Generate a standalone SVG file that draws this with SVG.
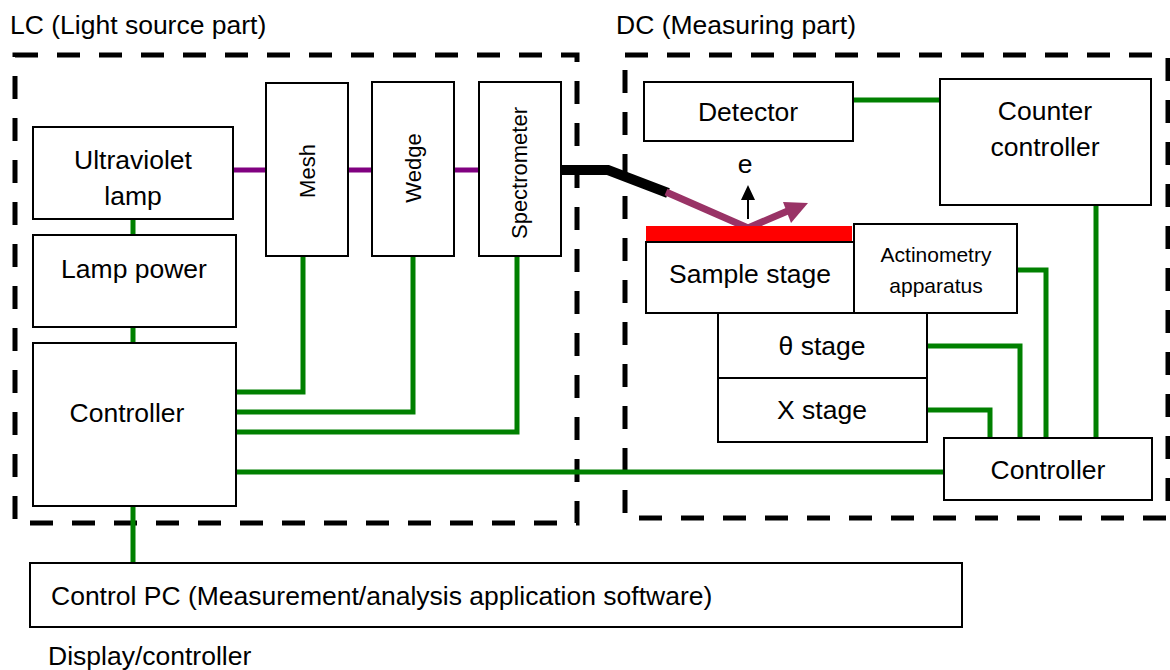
<svg xmlns="http://www.w3.org/2000/svg" width="1170" height="670" viewBox="0 0 1170 670">
<style>
  .box { fill: #fff; stroke: #000; stroke-width: 2; }
  .t { font-family: "Liberation Sans", Arial, sans-serif; font-size: 26.5px; fill: #000; }
  .tm { text-anchor: middle; }
  .ts { font-size: 21px; }
  .tr { font-size: 22px; }
  .dash { fill: none; stroke: #000; stroke-width: 5; stroke-dasharray: 23 19; }
  .g { fill: none; stroke: #008000; stroke-width: 5; }
  .p { fill: none; stroke: #800080; stroke-width: 5; }
</style>
<rect width="1170" height="670" fill="#fff"/>

<!-- regions -->
<g id="lc-region">
  <rect class="dash" x="15" y="55" width="562" height="468"/>
  <text class="t" x="10" y="34">LC (Light source part)</text>
</g>
<g id="dc-region">
  <rect class="dash" x="625" y="55" width="543" height="463"/>
  <text class="t" x="616" y="34">DC (Measuring part)</text>
</g>

<!-- connectors -->
<g id="connectors">
  <path class="p" d="M233,170 H266 M348,170 H372 M454,170 H479"/>
  <path class="g" d="M133,219 V235 M133,327 V343 M133,506 V563"/>
  <path class="g" d="M237,392 H303 V256"/>
  <path class="g" d="M237,412 H413 V256"/>
  <path class="g" d="M237,432 H517 V256"/>
  <path class="g" d="M237,472 H944"/>
  <path class="g" d="M853,100 H940"/>
  <path class="g" d="M1096,205 V438"/>
  <path class="g" d="M1017,270 H1046 V438"/>
  <path class="g" d="M927,346 H1020 V438"/>
  <path class="g" d="M927,410 H990 V438"/>
  <!-- light beam -->
  <path d="M561,170 H608 L668,193" fill="none" stroke="#000" stroke-width="10"/>
  <path d="M666,192 L748,228 L790,210" fill="none" stroke="#993366" stroke-width="7" stroke-linejoin="miter"/>
  <polygon points="808,203 783,202 791,223" fill="#993366"/>
  <!-- electron arrow -->
  <line x1="748" y1="219" x2="748" y2="198" stroke="#000" stroke-width="2"/>
  <polygon points="748,185 741,200 755,200" fill="#000"/>
  <text class="t tm" x="745" y="173">e</text>
</g>

<!-- LC nodes -->
<g id="uv-lamp">
  <rect class="box" x="33" y="127" width="200" height="92"/>
  <text class="t tm" x="133" y="169">Ultraviolet</text>
  <text class="t tm" x="133" y="205">lamp</text>
</g>
<g id="lamp-power">
  <rect class="box" x="33" y="235" width="203" height="92"/>
  <text class="t tm" x="134" y="278">Lamp power</text>
</g>
<g id="lc-controller">
  <rect class="box" x="33" y="343" width="203" height="163"/>
  <text class="t tm" x="127" y="422">Controller</text>
</g>
<g id="mesh">
  <rect class="box" x="266" y="83" width="82" height="173"/>
  <text class="t tr tm" transform="translate(315,171) rotate(-90)">Mesh</text>
</g>
<g id="wedge">
  <rect class="box" x="372" y="82" width="82" height="174"/>
  <text class="t tr tm" transform="translate(421,168) rotate(-90)">Wedge</text>
</g>
<g id="spectrometer">
  <rect class="box" x="479" y="82" width="82" height="174"/>
  <text class="t tr tm" transform="translate(527,173) rotate(-90)">Spectrometer</text>
</g>

<!-- DC nodes -->
<g id="detector">
  <rect class="box" x="644" y="82" width="209" height="59"/>
  <text class="t tm" x="748" y="121">Detector</text>
</g>
<g id="counter-controller">
  <rect class="box" x="940" y="79" width="211" height="126"/>
  <text class="t tm" x="1045" y="120">Counter</text>
  <text class="t tm" x="1045" y="156">controller</text>
</g>
<g id="sample-stage">
  <rect x="646" y="226" width="206" height="16" fill="#ff0000"/>
  <rect class="box" x="646" y="242" width="208" height="71"/>
  <text class="t tm" x="750" y="283">Sample stage</text>
</g>
<g id="actinometry">
  <rect class="box" x="854" y="224" width="163" height="89"/>
  <text class="t ts tm" x="936" y="262">Actinometry</text>
  <text class="t ts tm" x="936" y="293">apparatus</text>
</g>
<g id="theta-stage">
  <rect class="box" x="718" y="313" width="209" height="65"/>
  <text class="t tm" x="822" y="355">θ stage</text>
</g>
<g id="x-stage">
  <rect class="box" x="718" y="378" width="209" height="64"/>
  <text class="t tm" x="822" y="419">X stage</text>
</g>
<g id="dc-controller">
  <rect class="box" x="944" y="438" width="208" height="62"/>
  <text class="t tm" x="1048" y="479">Controller</text>
</g>

<!-- PC -->
<g id="control-pc">
  <rect class="box" x="30" y="563" width="932" height="64"/>
  <text class="t" x="51" y="605">Control PC (Measurement/analysis application software)</text>
</g>
<text class="t" x="48" y="665">Display/controller</text>
</svg>
